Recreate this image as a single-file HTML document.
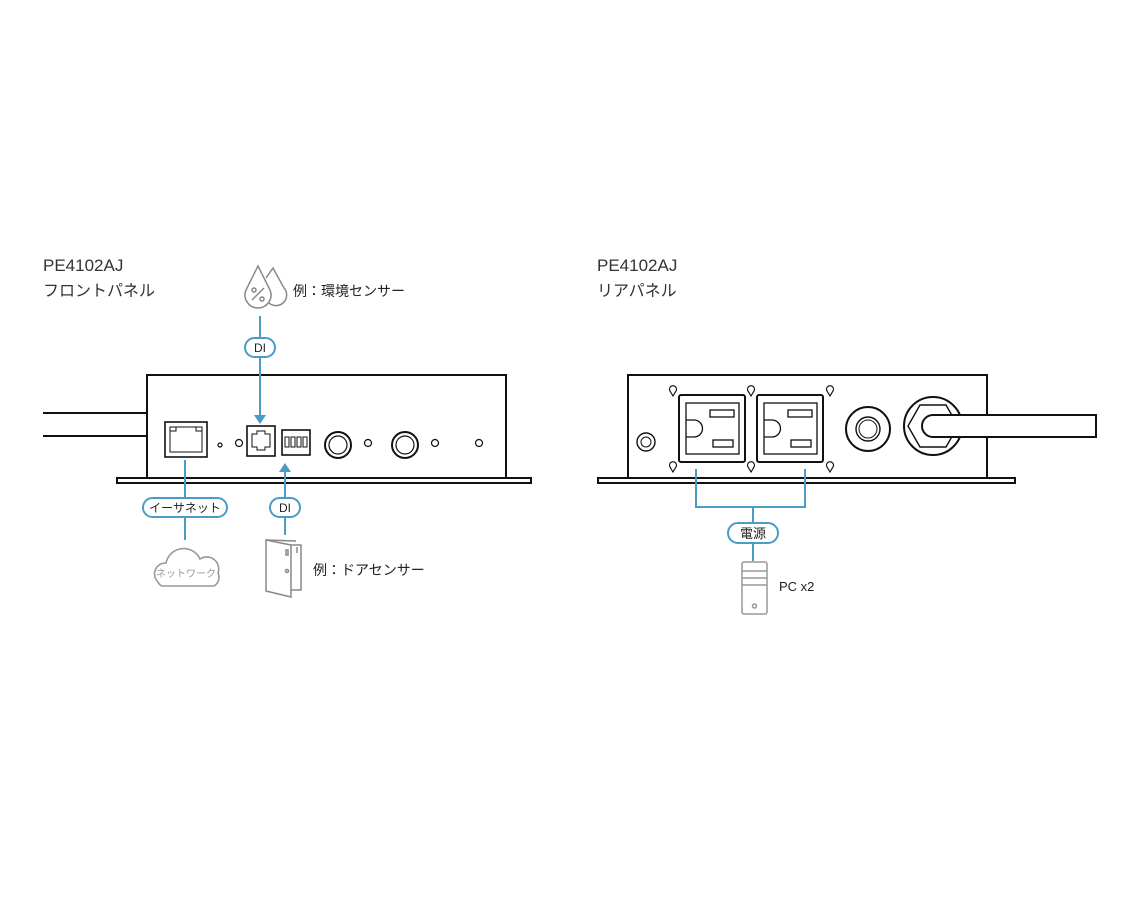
<!DOCTYPE html>
<html><head><meta charset="utf-8"><style>
html,body{margin:0;padding:0;background:#fff;}
svg{display:block;font-family:"Liberation Sans","Noto Sans CJK JP",sans-serif;}
</style></head><body>
<svg width="1140" height="900" viewBox="0 0 1140 900" xmlns="http://www.w3.org/2000/svg">
<g fill="#333" font-size="17">
<text x="43" y="271">PE4102AJ</text>
<text x="43" y="296" font-size="16">フロントパネル</text>
<text x="597" y="271">PE4102AJ</text>
<text x="597" y="296" font-size="16">リアパネル</text>
</g>
<!-- FRONT -->
<g stroke="#111" fill="none" stroke-width="2">
<line x1="43" y1="413" x2="147" y2="413"/>
<line x1="43" y1="436" x2="147" y2="436"/>
<rect x="147" y="375" width="359" height="104" fill="#fff"/>
<rect x="117" y="478" width="414" height="5" fill="#fff"/>
<rect x="165" y="422" width="42" height="35" stroke-width="1.6"/>
<rect x="170" y="427" width="32" height="25" stroke-width="1"/>
<path d="M170 431h6v-4M196 427v4h6" stroke-width="1"/>
<rect x="247" y="426" width="28" height="30" stroke-width="1.6"/>
<path d="M252 447v-13h5v-3h8v3h5v13h-5v3h-8v-3z" stroke-width="1"/>
<rect x="282" y="430" width="28" height="25" stroke-width="1.6"/>
<g stroke-width="1"><rect x="285" y="437" width="4" height="10"/><rect x="291" y="437" width="4" height="10"/><rect x="297" y="437" width="4" height="10"/><rect x="303" y="437" width="4" height="10"/></g>
<circle cx="338" cy="445" r="13"/><circle cx="338" cy="445" r="9" stroke-width="1.2"/>
<circle cx="405" cy="445" r="13"/><circle cx="405" cy="445" r="9" stroke-width="1.2"/>
<g stroke-width="1.2"><circle cx="220" cy="445" r="2"/><circle cx="239" cy="443" r="3.5"/><circle cx="368" cy="443" r="3.5"/><circle cx="435" cy="443" r="3.5"/><circle cx="479" cy="443" r="3.5"/></g>
</g>
<!-- blue connectors front -->
<g stroke="#4a9cc4" stroke-width="2" fill="none">
<line x1="260" y1="316" x2="260" y2="417"/>
<line x1="185" y1="460" x2="185" y2="540"/>
<line x1="285" y1="470" x2="285" y2="535"/>
</g>
<path d="M254 415h12l-6 9z" fill="#4a9cc4"/>
<path d="M279 472h12l-6-9z" fill="#4a9cc4"/>
<g stroke="#4a9cc4" stroke-width="2" fill="#fff">
<rect x="245" y="338" width="30" height="19" rx="9.5"/>
<rect x="143" y="498" width="84" height="19" rx="9.5"/>
<rect x="270" y="498" width="30" height="19" rx="9.5"/>
<rect x="728" y="523" width="50" height="20" rx="10"/>
</g>
<g font-size="12" fill="#222" text-anchor="middle">
<text x="260" y="352">DI</text>
<text x="285" y="512">DI</text>
<text x="185" y="512">イーサネット</text>
<text x="753" y="538" font-size="13">電源</text>
</g>
<!-- drops -->
<g stroke="#888" stroke-width="1.5" fill="none">
<path d="M266 278 L273 268 L284 288 A10 10 0 0 1 268 302"/>
<path d="M258 266 L246 290 A13 13 0 1 0 270 290 Z" fill="#fff"/>
<circle cx="254" cy="290" r="2"/><circle cx="262" cy="299" r="2"/><line x1="252" y1="300" x2="264" y2="288"/>
</g>
<text x="293" y="296" font-size="14" fill="#222">例：環境センサー</text>
<!-- cloud -->
<path d="M158 582 a11 11 0 0 1 8 -19 a18 18 0 0 1 34 -4 a12 12 0 0 1 18 14 a10 10 0 0 1 -4 13 h-52 a8 8 0 0 1 -4 -4z" stroke="#999" stroke-width="1.6" fill="#fff"/>
<text x="186" y="577" font-size="10" fill="#999" text-anchor="middle">ネットワーク</text>
<!-- door -->
<g stroke="#888" stroke-width="1.5" fill="none">
<path d="M266 540 L291 545 L291 597 L266 591 Z"/>
<path d="M291 545 L301 545 L301 590 L291 590"/>
<path d="M266 540 L296 541"/>
<rect x="286" y="550" width="2" height="5"/><circle cx="287" cy="571" r="1.5"/><line x1="297" y1="547" x2="297" y2="553"/>
</g>
<text x="313" y="575" font-size="14" fill="#222">例：ドアセンサー</text>
<!-- REAR -->
<g stroke="#111" fill="none" stroke-width="2">
<rect x="628" y="375" width="359" height="104" fill="#fff"/>
<rect x="598" y="478" width="417" height="5" fill="#fff"/>
<rect x="679" y="395" width="66" height="67" rx="2"/>
<rect x="686" y="403" width="53" height="51" stroke-width="1.3"/>
<rect x="757" y="395" width="66" height="67" rx="2"/>
<rect x="764" y="403" width="53" height="51" stroke-width="1.3"/>
<g stroke-width="1.3">
<path d="M686 420h8a8 8 0 0 1 0 17h-8"/><rect x="710" y="410" width="24" height="7"/><rect x="713" y="440" width="20" height="7"/>
<path d="M764 420h8a8 8 0 0 1 0 17h-8"/><rect x="788" y="410" width="24" height="7"/><rect x="791" y="440" width="20" height="7"/>
</g>
<circle cx="646" cy="442" r="9" stroke-width="1.4"/><circle cx="646" cy="442" r="5" stroke-width="1"/>
<circle cx="868" cy="429" r="22"/><circle cx="868" cy="429" r="12" stroke-width="1.4"/><circle cx="868" cy="429" r="9" stroke-width="1"/>
<circle cx="933" cy="426" r="29"/>
<path d="M920 405 h26 l12 21 l-12 21 h-26 l-12 -21z" stroke-width="1.4"/>
<path d="M1096 415 H933 a11 11 0 0 0 0 22 H1096 Z" fill="#fff"/>
</g>
<g stroke="#111" stroke-width="1.2" fill="#fff">
<path d="M670 391 a3.5 3.5 0 1 1 6 0 l-3 5z"/><path d="M748 391 a3.5 3.5 0 1 1 6 0 l-3 5z"/><path d="M827 391 a3.5 3.5 0 1 1 6 0 l-3 5z"/>
<path d="M670 467 a3.5 3.5 0 1 1 6 0 l-3 5z"/><path d="M748 467 a3.5 3.5 0 1 1 6 0 l-3 5z"/><path d="M827 467 a3.5 3.5 0 1 1 6 0 l-3 5z"/>
</g>
<g stroke="#4a9cc4" stroke-width="2" fill="none">
<path d="M696 469 V507 H805 V469"/>
<line x1="753" y1="507" x2="753" y2="523"/>
<line x1="753" y1="543" x2="753" y2="561"/>
</g>
<g stroke="#999" stroke-width="1.5" fill="#fff">
<rect x="742" y="562" width="25" height="52" rx="2"/>
<line x1="742" y1="571" x2="767" y2="571"/><line x1="742" y1="578" x2="767" y2="578"/><line x1="742" y1="585" x2="767" y2="585"/>
<circle cx="754.5" cy="606" r="2"/>
</g>
<text x="779" y="591" font-size="13" fill="#222">PC x2</text>
</svg>
</body></html>
